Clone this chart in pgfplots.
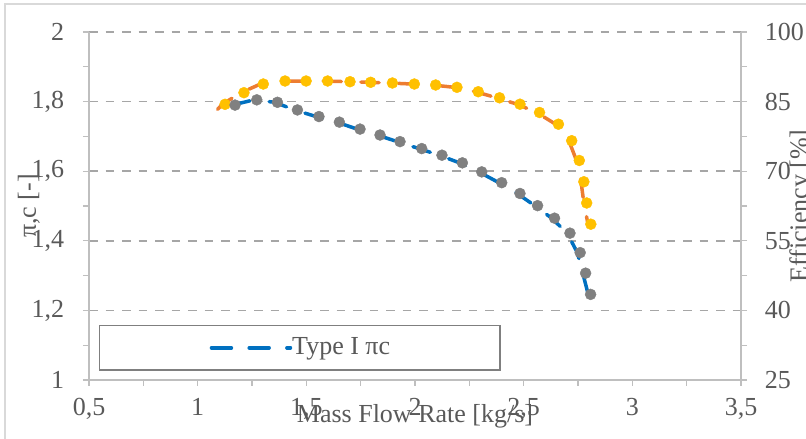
\documentclass[border=0pt]{standalone}
\usepackage{fontspec}
\setmainfont{Liberation Serif}
\usepackage{pgfplots}
\pgfplotsset{compat=1.18}
\definecolor{txt}{HTML}{595959}
\definecolor{axl}{HTML}{BFBFBF}
\definecolor{grd}{HTML}{A6A6A6}
\definecolor{blueL}{HTML}{0070C0}
\definecolor{orangeL}{HTML}{ED7D31}
\definecolor{yellowM}{HTML}{FFC000}
\definecolor{greyM}{HTML}{808080}
\definecolor{brd}{HTML}{D9D9D9}
\definecolor{lgb}{HTML}{7F7F7F}

\pgfplotstableread{
x y
1.172 1.790
1.272 1.805
1.367 1.798
1.459 1.776
1.558 1.757
1.652 1.741
1.747 1.721
1.839 1.704
1.931 1.685
2.031 1.665
2.124 1.646
2.218 1.624
2.307 1.598
2.399 1.567
2.483 1.536
2.564 1.501
2.642 1.465
2.713 1.422
2.760 1.366
2.785 1.307
2.808 1.246
}\greydata

\pgfplotstableread{
x y
1.159 1.790
1.259 1.805
1.354 1.798
1.446 1.776
1.545 1.757
1.639 1.741
1.734 1.721
1.826 1.704
1.918 1.685
2.018 1.665
2.111 1.646
2.205 1.624
2.294 1.598
2.386 1.567
2.470 1.536
2.551 1.501
2.629 1.465
2.700 1.422
2.747 1.366
2.772 1.307
2.797 1.246
}\bluedata

\pgfplotstableread{
x y
1.126 84.42
1.213 86.92
1.302 88.79
1.402 89.44
1.499 89.44
1.598 89.44
1.701 89.29
1.796 89.16
1.896 89.01
1.997 88.79
2.095 88.58
2.193 88.08
2.291 87.13
2.389 85.82
2.483 84.44
2.573 82.65
2.660 80.13
2.721 76.57
2.756 72.31
2.777 67.72
2.790 63.15
2.809 58.58
}\yellowdata

\pgfplotstableread{
x y
1.092 83.34
1.113 84.42
1.200 86.92
1.289 88.79
1.389 89.44
1.486 89.44
1.585 89.44
1.688 89.29
1.783 89.16
1.883 89.01
1.984 88.79
2.082 88.58
2.180 88.08
2.278 87.13
2.376 85.82
2.470 84.44
2.560 82.65
2.647 80.13
2.708 76.57
2.743 72.31
2.764 67.72
2.777 63.15
2.796 58.58
}\orangedata

\begin{document}
\fontsize{26}{31}\selectfont
\begin{tikzpicture}[font=\fontsize{26}{31}\selectfont]
\pgfplotsset{
  set layers,
  every axis/.append style={
    scale only axis, width=652pt, height=348pt,
    at={(89pt,59pt)}, anchor=south west,
    xmin=0.5, xmax=3.5,
    tick align=outside,
    major tick length=6pt, minor tick length=6pt,
    tick style={axl, line width=1.3pt},
    axis line style={axl, line width=1.5pt, -},
    tick label style={text=txt, font=\fontsize{26}{31}\selectfont},
    /pgf/number format/assume math mode=true,
    /pgf/number format/use comma,
  },
}
\draw[brd, line width=1.2pt] (5pt,-5pt) -- (5pt,435pt) -- (815pt,435pt);

% efficiency axis (right)
\begin{axis}[
  axis x line=none, axis y line*=right,
  ymin=25, ymax=100, ytick={25,40,55,70,85,100}, minor y tick num=1,
  yticklabel style={xshift=9pt},
  ylabel={Efficiency [\%]},
  every axis y label/.style={at={(axis description cs:1.102,0.5)}, rotate=90, anchor=base, text=txt, font=\fontsize{26}{31}\selectfont},
]
\addplot[orangeL, line width=3.5pt, line cap=round, dash pattern=on 18.2pt off 19.5pt, mark=none] table[x=x,y=y] {\orangedata};
\addplot[only marks, mark=*, mark size=5.5pt, mark options={fill=yellowM, draw=yellowM}] table[x=x,y=y] {\yellowdata};
\end{axis}

% pressure ratio axis (left)
\begin{axis}[
  axis x line*=bottom, axis y line*=left,
  ymin=1, ymax=2, ytick={1,1.2,1.4,1.6,1.8,2}, minor y tick num=1,
  xtick={0.5,1,1.5,2,2.5,3,3.5}, minor x tick num=1,
  yticklabel style={xshift=-10pt},
  xticklabel style={yshift=-3pt},
  ymajorgrids, grid style={grd, dash pattern=on 8.5pt off 8pt, line width=1.5pt},
  xlabel={Mass Flow Rate [kg/s]},
  ylabel={π,c [-]},
  every axis x label/.style={at={(axis description cs:0.5,-0.1207)}, anchor=base, text=txt, font=\fontsize{26}{31}\selectfont},
  every axis y label/.style={at={(axis description cs:-0.0813,0.5)}, rotate=90, anchor=base, text=txt, font=\fontsize{26}{31}\selectfont},
  legend style={at={(axis description cs:0.0153,0.0259)}, anchor=south west,
    draw=lgb, line width=1.5pt, fill=white, inner xsep=110pt, inner ysep=12pt,
    nodes={inner sep=0pt, text=txt}, font=\fontsize{26}{31}\selectfont},
  legend image code/.code={\path (0pt,0pt) -- (79pt,0pt); \draw[#1] (1.75pt,0pt) -- (59pt,0pt);},
]
\addplot[blueL, line width=3.5pt, line cap=round, dash pattern=on 18.2pt off 19.5pt, mark=none] table[x=x,y=y] {\bluedata};
\addlegendentry{Type I πc}
\addplot[only marks, mark=*, mark size=5.5pt, mark options={fill=greyM, draw=greyM}, forget plot] table[x=x,y=y] {\greydata};
\end{axis}
\pgfresetboundingbox
\useasboundingbox (0pt,0pt) rectangle (806pt,439pt);
\end{tikzpicture}
\end{document}
